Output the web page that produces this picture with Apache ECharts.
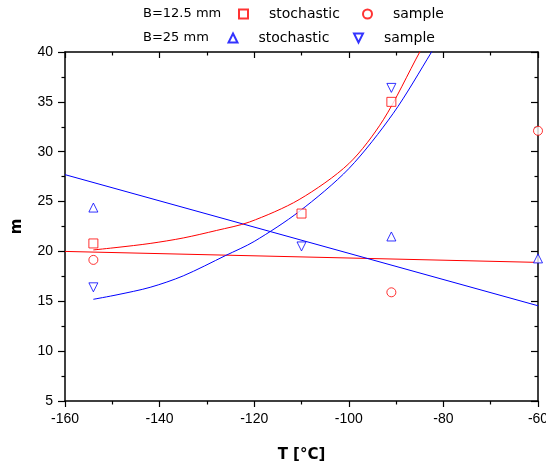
<!DOCTYPE html>
<html>
<head>
<meta charset="utf-8">
<script src="https://cdn.jsdelivr.net/npm/echarts@6/dist/echarts.min.js"></script>
<style>
  html, body { margin: 0; padding: 0; background: #fff; }
  #main { width: 546px; height: 468px; }
</style>
</head>
<body>
<div id="main"></div>
<script>
// values: [T, m]
var sq125 = [[-154, 20.8], [-110, 23.8], [-91, 35.0]];
var circ125 = [[-154, 19.15], [-91, 15.9], [-60, 32.1]];
var up25 = [[-154, 24.4], [-91, 21.5], [-60, 19.3]];
var down25 = [[-154, 16.4], [-110, 20.5], [-91, 36.4]];

// fitted curves
var curve125 = [[-154, 20.15], [-149, 20.4], [-142, 20.8], [-135, 21.35], [-128, 22.1], [-121, 22.95], [-110.5, 25.2], [-100, 28.8], [-92.7, 33.2], [-85, 40], [-83, 41.6]];
var curve25 = [[-154, 15.2], [-149, 15.65], [-142, 16.4], [-135, 17.55], [-126, 19.6], [-120, 21.0], [-110.5, 24.0], [-100, 28.3], [-90.6, 33.85], [-82.5, 40], [-81, 41.3]];
var line125 = [[-160, 20.0], [-60, 18.9]];
var line25 = [[-160, 27.7], [-60, 14.55]];

var xTicks = [-160, -140, -120, -100, -80, -60];
var yTicks = [5, 10, 15, 20, 25, 30, 35, 40];

var RED = "#ff0000", BLUE = "#0000ff";
var downTri = "path://M0,0 L10,0 L5,10 Z";
var legendFont = { fontFamily: "DejaVu Sans", fontSize: 14, color: "#000", padding: [0, 0, 0, 16] };

var myChart = echarts.init(document.getElementById("main"));

function mkLegend(name, left, top) {
  return {
    data: [name], left: left, top: top, itemWidth: 9, itemHeight: 9,
    padding: 0, textStyle: legendFont, selectedMode: false,
    formatter: function (n) { return n.split(" ")[1]; }
  };
}

function axisX(pos, inside, labels) {
  return {
    type: "value", position: pos, min: xTicks[0], max: xTicks[xTicks.length - 1], interval: 20,
    axisLine: { show: true, onZero: false, lineStyle: { color: "#000", width: 1.5 } },
    axisTick: { show: true, inside: inside, length: 6, lineStyle: { color: "#000", width: 1.2 } },
    minorTick: { show: true, splitNumber: 2, length: 3.5, lineStyle: { color: "#000", width: 1.2 } },
    splitLine: { show: false },
    axisLabel: { show: labels, margin: 11, color: "#000", fontFamily: "Liberation Sans", fontSize: 14 }
  };
}

function axisY(pos, inside, labels) {
  return {
    type: "value", position: pos, min: yTicks[0], max: yTicks[yTicks.length - 1], interval: 5,
    axisLine: { show: true, onZero: false, lineStyle: { color: "#000", width: 1.5 } },
    axisTick: { show: true, inside: inside, length: 7, lineStyle: { color: "#000", width: 1.2 } },
    minorTick: { show: true, splitNumber: 2, length: 3.5, lineStyle: { color: "#000", width: 1.2 } },
    splitLine: { show: false },
    axisLabel: { show: labels, margin: 12, color: "#000", fontFamily: "Liberation Sans", fontSize: 14 }
  };
}

var xMain = axisX("bottom", false, true);
xMain.name = "T [°C]";
xMain.nameLocation = "middle";
xMain.nameGap = 47;
xMain.nameTextStyle = { fontFamily: "DejaVu Sans", fontWeight: "bold", fontSize: 15, color: "#000" };

var yMain = axisY("left", false, true);
yMain.name = "m";
yMain.nameLocation = "middle";
yMain.nameGap = 40;
yMain.nameTextStyle = { fontFamily: "DejaVu Sans", fontWeight: "bold", fontSize: 15, color: "#000" };

function scatter(name, data, symbol, color) {
  return {
    name: name, type: "scatter", data: data, symbol: symbol, symbolSize: 9,
    itemStyle: { color: "#fff", borderColor: color, borderWidth: 1 },
    z: 3
  };
}

function line(data, color, smooth) {
  return {
    type: "line", data: data, smooth: smooth, showSymbol: false, symbol: "none",
    lineStyle: { color: color, width: 1 }, silent: true, z: 2
  };
}

var option = {
  animation: false,
  backgroundColor: "#fff",
  grid: { left: 65, right: 8, top: 52, bottom: 67, outerBoundsMode: "none" },
  legend: [
    mkLegend("B125 stochastic", 238, 7),
    mkLegend("B125 sample", 362, 7),
    mkLegend("B25 stochastic", 227.5, 31),
    mkLegend("B25 sample", 353, 31)
  ],
  graphic: [
    { type: "text", left: 143, top: 7, style: { text: "B=12.5 mm", fontFamily: "DejaVu Sans", fontSize: 13, fill: "#000" } },
    { type: "text", left: 143, top: 31, style: { text: "B=25 mm", fontFamily: "DejaVu Sans", fontSize: 13, fill: "#000" } }
  ],
  xAxis: [xMain, axisX("top", true, false)],
  yAxis: [yMain, axisY("right", true, false)],
  series: [
    line(line125, RED, false),
    line(line25, BLUE, false),
    line(curve125, RED, 0.3),
    line(curve25, BLUE, 0.3),
    scatter("B125 stochastic", sq125, "rect", RED),
    scatter("B125 sample", circ125, "circle", RED),
    scatter("B25 stochastic", up25, "triangle", BLUE),
    scatter("B25 sample", down25, downTri, BLUE)
  ]
};

myChart.setOption(option);
</script>
</body>
</html>
